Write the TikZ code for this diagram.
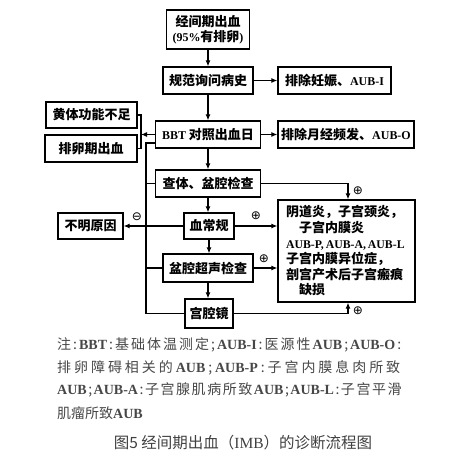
\documentclass[tikz,border=0pt]{standalone}
\usepackage{fontspec}
\setmainfont{Liberation Serif}
\newfontfamily\cjk{Noto Sans CJK SC}
\newfontfamily\latf[Scale=0.92]{Liberation Serif}
\newfontfamily\symf{DejaVu Sans}
\usetikzlibrary{arrows.meta}
\newcommand\lat[1]{{\latf #1}}
\newcommand\latb[1]{{\rmfamily\bfseries #1}}
\newcommand\spreadtxt[1]{\spreadloop#1\relax}
\def\spreadloop#1{\ifx\relax#1\else#1\hskip0pt plus 1fil\relax\expandafter\spreadloop\fi}
\begin{document}
\begin{tikzpicture}[x=1pt,y=-1pt,
 box/.style={draw,line width=1.3pt,inner sep=0pt,align=center,font=\cjk\bfseries\fontsize{13}{15}\selectfont},
 conn/.style={line width=1.1pt},
 arr/.style={conn,-{Latex[length=6pt,width=5pt]}},
 sgn/.style={font=\symf\fontsize{12}{12}\selectfont,inner sep=0pt},
 note/.style={anchor=west,inner sep=0pt,text=black!72,font=\cjk\fontsize{14}{16}\selectfont}]
\useasboundingbox (0,0) rectangle (476,460);
\node[box,minimum width=83pt,minimum height=39pt] (n1) at (208,29.5) {经间期出血\\\lat{(95\%}有排卵\lat{)}};
\node[box,minimum width=90pt,minimum height=27pt] (n2) at (208,80.5) {规范询问病史};
\node[box,minimum width=113pt,minimum height=27pt] (n3) at (334.5,80.5) {排除妊娠、\lat{AUB-I}};
\node[box,minimum width=105pt,minimum height=27pt] (n4) at (208,134.5) {\lat{BBT}\ 对照出血日};
\node[box,minimum width=136pt,minimum height=27pt] (n5) at (346,134.5) {排除月经频发、\lat{AUB-O}};
\node[box,minimum width=91pt,minimum height=26pt] (l1) at (91.5,115) {黄体功能不足};
\node[box,minimum width=92pt,minimum height=27pt] (l2) at (91,148.5) {排卵期出血};
\node[box,minimum width=105pt,minimum height=27pt] (n6) at (208,183.5) {查体、盆腔检查};
\node[box,minimum width=50pt,minimum height=26pt] (n7) at (209,226) {血常规};
\node[box,minimum width=65pt,minimum height=26pt] (n8) at (90.5,226) {不明原因};
\node[box,minimum width=90pt,minimum height=28pt] (n9) at (208,268) {盆腔超声检查};
\node[box,minimum width=48pt,minimum height=29pt] (n10) at (209,313.5) {宫腔镜};
\node[box,minimum width=137pt,minimum height=102pt,text width=121pt,align=left,font=\cjk\bfseries\fontsize{13}{15.6}\selectfont] (r) at (346.5,251) {阴道炎，子宫颈炎，\\\hspace*{1em}子宫内膜炎\\ \mbox{\lat{\fontsize{12.8}{15.6}\selectfont AUB-P,\,AUB-A,\,AUB-L}}\\子宫内膜异位症，\\剖宫产术后子宫瘢痕\\\hspace*{1em}缺损};
\draw[arr] (n1.south) -- (n1.south |- n2.north);
\draw[arr] (n2.east) -- (n3.west);
\draw[arr] (n2.south) -- (n2.south |- n4.north);
\draw[arr] (n4.east) -- (n5.west);
\draw[arr] (n4.south) -- (n4.south |- n6.north);
\draw[arr] (n6.south) -- (n6.south |- n7.north);
\draw[arr] (n7.south) -- (n7.south |- n9.north);
\draw[arr] (n9.south) -- (n9.south |- n10.north);
\coordinate (bk) at (141,134.5);
\draw[conn] (l1.east) -| (bk) |- (l2.east);
\draw[arr] (n4.west) -- (bk);
\coordinate (vl) at (146,143);
\draw[conn] (n4.west |- vl) -- (vl) -- (vl |- n10.west) -- (n10.west);
\draw[conn] (vl |- n6.west) -- (n6.west);
\draw[conn] (vl |- n9.west) -- (n9.west);
\draw[arr] (n7.west) -- (n8.east);
\coordinate (rx) at (348,183.5);
\draw[arr] (n6.east) -| (rx |- r.north);
\draw[arr] (n10.east) -| (rx |- r.south);
\draw[arr] (n7.east) -- (n7.east -| r.west);
\draw[arr] (n9.east) -- (n9.east -| r.west);
\node[sgn] (p1) at (358,191) {⊕};
\node[sgn] (p2) at (256,216) {⊕};
\node[sgn] (p3) at (264,259) {⊕};
\node[sgn] (p4) at (358,311) {⊕};
\node[sgn] (m1) at (137,217) {⊖};
\node[note] (t1) at (57,345) {\makebox[346pt][s]{\spreadtxt{注:{\latb{BBT}}:基础体温测定;{\latb{AUB-I}}:医源性{\latb{AUB}};{\latb{AUB-O}}:}}};
\node[note] (t2) at (57,368) {\makebox[346pt][s]{\spreadtxt{排卵障碍相关的{\latb{AUB}};{\latb{AUB-P}}:子宫内膜息肉所致}}};
\node[note] (t3) at (57,390) {\makebox[346pt][s]{\spreadtxt{{\latb{AUB}};{\latb{AUB-A}}:子宫腺肌病所致{\latb{AUB}};{\latb{AUB-L}}:子宫平滑}}};
\node[note] (t4) at (57,413) {肌瘤所致\latb{AUB}};
\node[font=\cjk\fontsize{15.5}{18}\selectfont,text=black!75] (cap) at (243,443) {图5\ 经间期出血（{\rmfamily IMB}）的诊断流程图};
\end{tikzpicture}
\end{document}
